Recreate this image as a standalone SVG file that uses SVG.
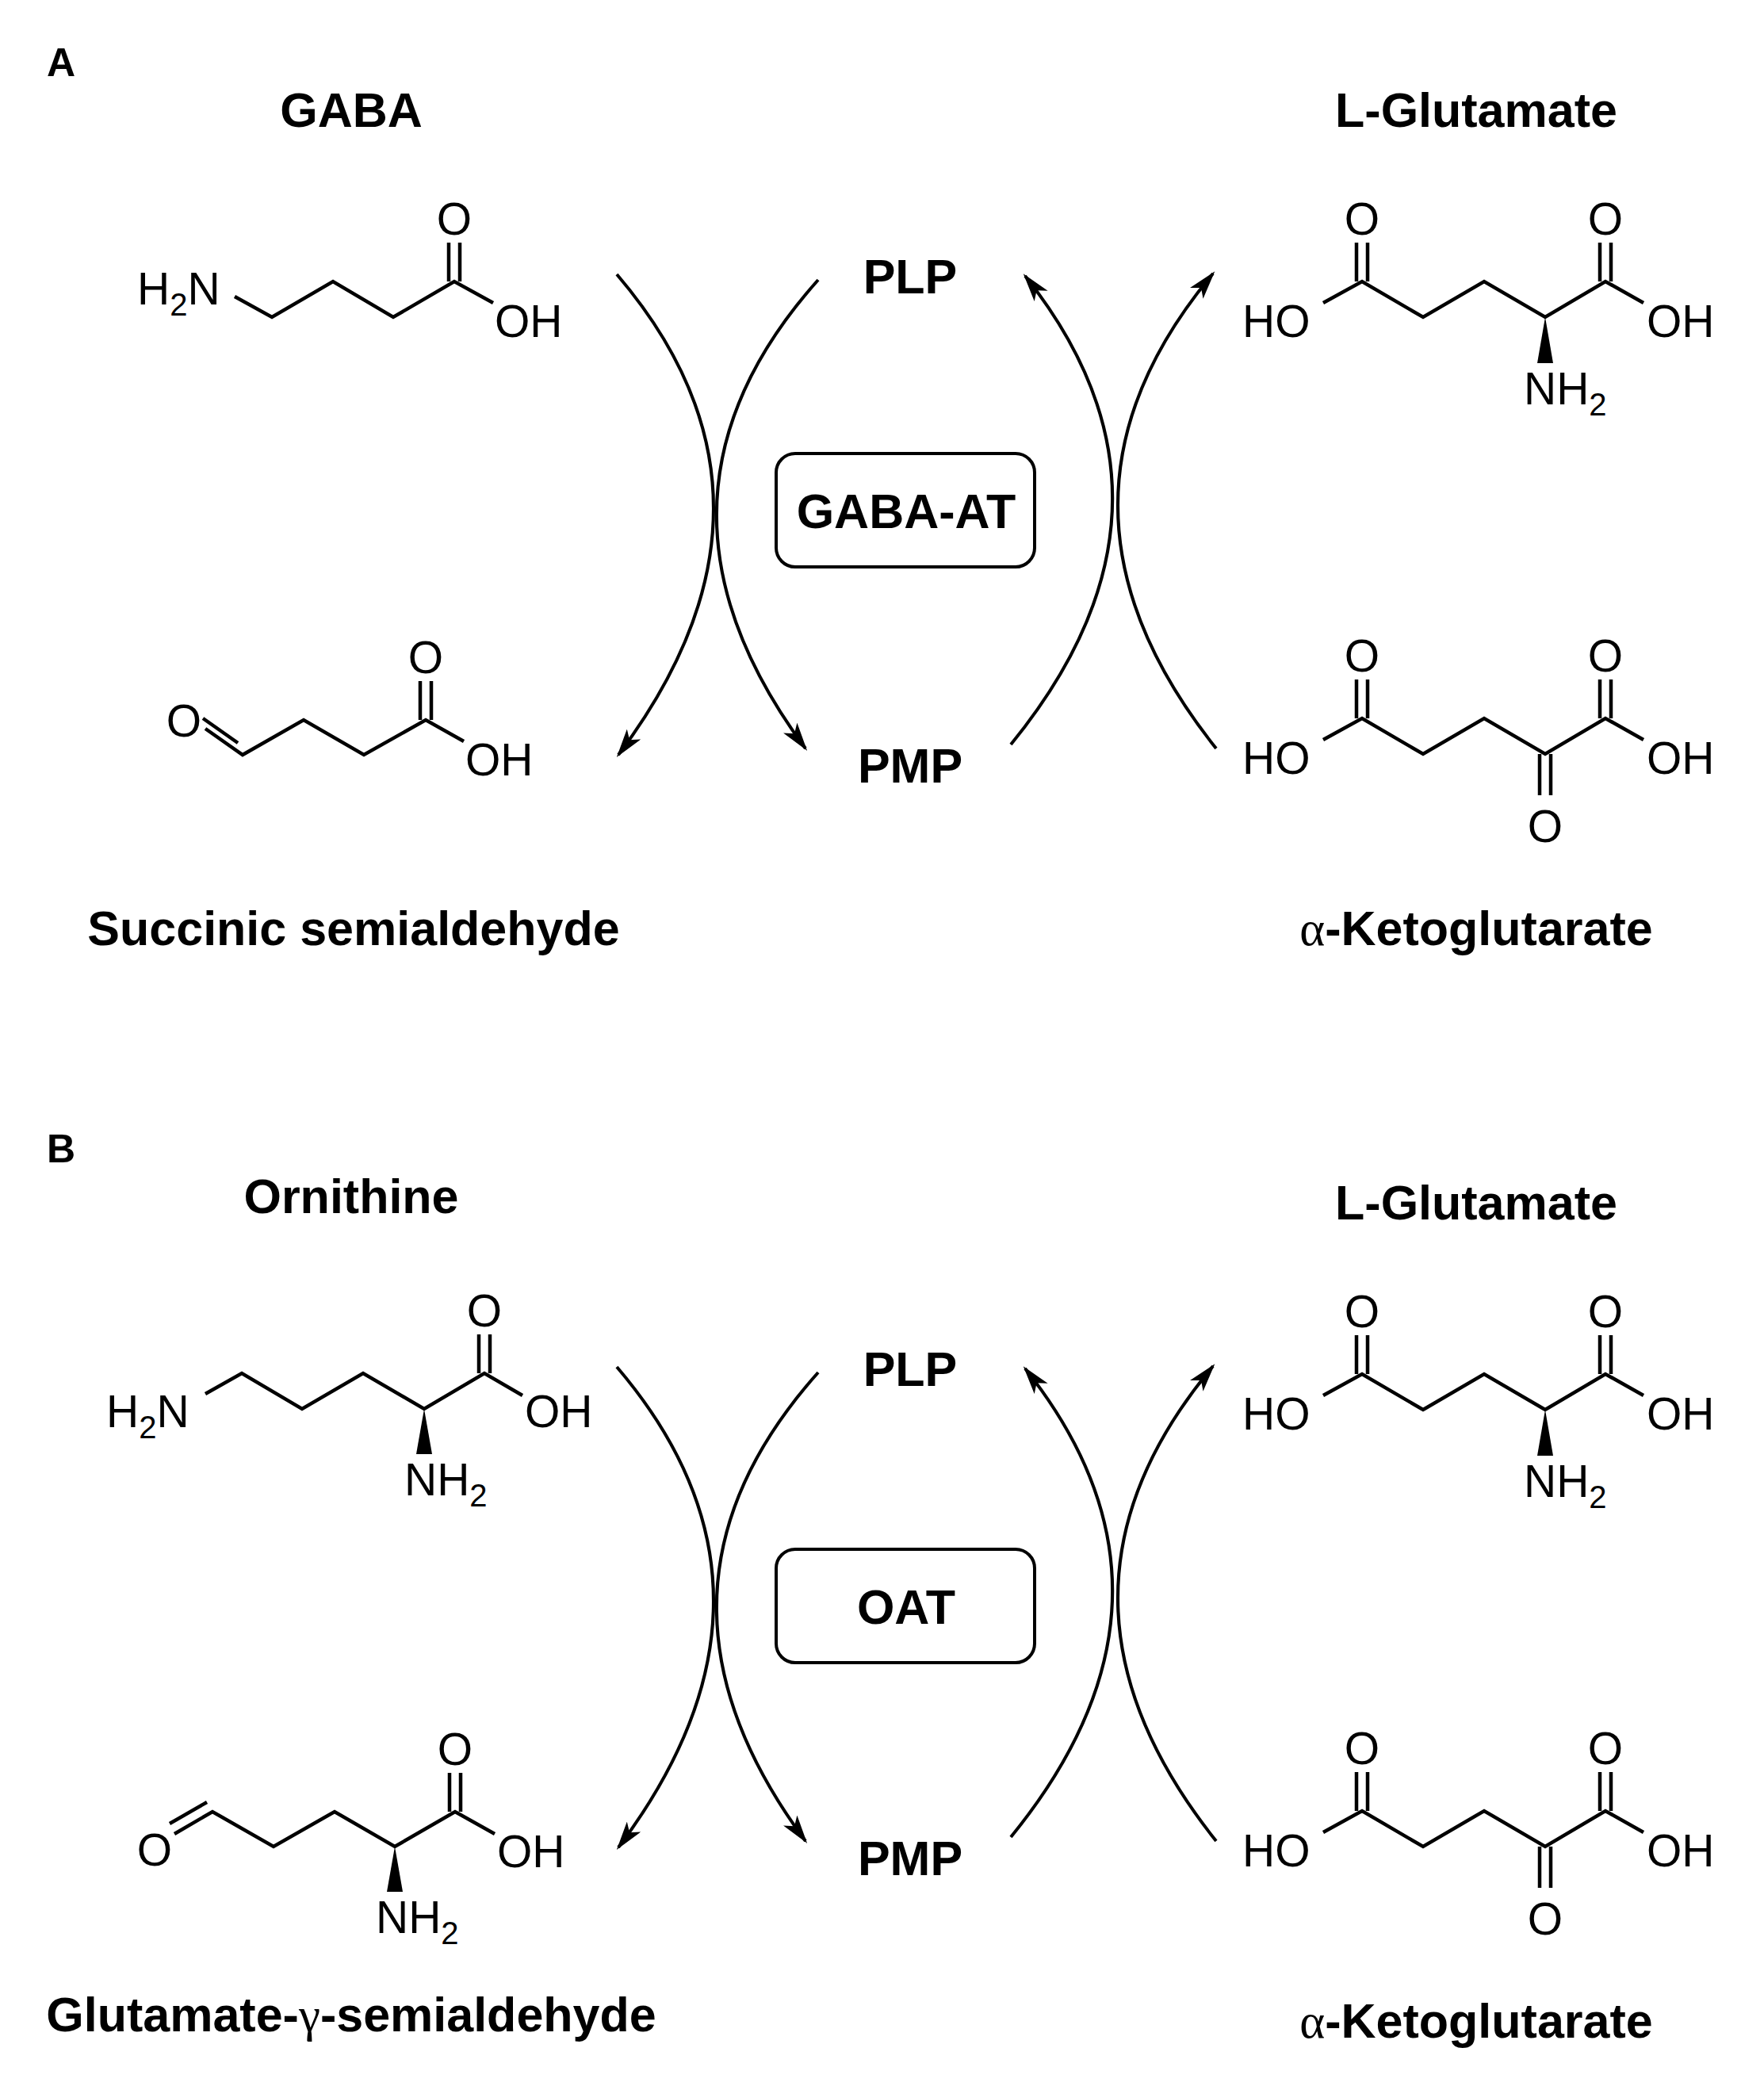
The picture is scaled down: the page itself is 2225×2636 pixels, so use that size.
<svg xmlns="http://www.w3.org/2000/svg" width="2225" height="2636" viewBox="0 0 2225 2636">
<style>
.t{font-family:"Liberation Sans",Arial,sans-serif;font-weight:bold;font-size:61px;fill:#000}
.c{font-family:"Liberation Sans",Arial,sans-serif;font-size:57px;fill:#000}
.s{font-size:40px}
.g{font-family:"Liberation Serif","Times New Roman",serif;font-weight:normal}
.b{fill:none;stroke:#000;stroke-width:4.5;stroke-linejoin:miter}
.a{fill:none;stroke:#000;stroke-width:4;marker-end:url(#ah)}
.box{fill:none;stroke:#000;stroke-width:4}
</style>
<defs>
<marker id="ah" viewBox="0 0 20 12" refX="18" refY="6" markerWidth="9" markerHeight="5.4" orient="auto" markerUnits="strokeWidth">
<path d="M0,0 L20,6 L0,12 L5,6 z" fill="#000"/>
</marker>
<g id="glu">
<text class="c" x="1567" y="425">HO</text>
<path class="b" d="M1669,382 L1718,355 L1795,400 L1872,355 L1949,400 L2025,355 L2073,382"/>
<path class="b" d="M1711,355 V306 M1725,355 V306 M2018,355 V306 M2032,355 V306"/>
<text class="c" x="1718" y="296" text-anchor="middle">O</text>
<text class="c" x="2025" y="296" text-anchor="middle">O</text>
<text class="c" x="2077" y="425">OH</text>
<path d="M1949,400 L1959,458 L1939,458 z" fill="#000"/>
<text class="c" x="1922" y="510">NH<tspan class="s" dy="14">2</tspan></text>
</g>
<g id="akg">
<text class="c" x="1567" y="976">HO</text>
<path class="b" d="M1669,933 L1718,906 L1795,951 L1872,906 L1949,951 L2025,906 L2073,933"/>
<path class="b" d="M1711,906 V857 M1725,906 V857 M2018,906 V857 M2032,906 V857 M1942,951 V1003 M1956,951 V1003"/>
<text class="c" x="1718" y="847" text-anchor="middle">O</text>
<text class="c" x="2025" y="847" text-anchor="middle">O</text>
<text class="c" x="2077" y="976">OH</text>
<text class="c" x="1949" y="1062" text-anchor="middle">O</text>
</g>
<g id="arcs">
<path class="a" d="M778,346 Q1021,631 780,952"/>
<path class="a" d="M1032,353 Q784,631 1016,944"/>
<path class="a" d="M1275,939 Q1522,636 1293,348"/>
<path class="a" d="M1534,944 Q1288,635 1530,345"/>
</g>
<g id="center">
<text class="t" x="1148" y="370" text-anchor="middle">PLP</text>
<text class="t" x="1148" y="987" text-anchor="middle">PMP</text>
</g>
<g id="right">
<text class="t" x="1862" y="160" text-anchor="middle">L-Glutamate</text>
<use href="#glu"/>
<use href="#akg"/>
<text class="t" x="1862" y="1192" text-anchor="middle"><tspan class="g">α</tspan>-Ketoglutarate</text>
</g>
</defs>

<g id="panelA">
<text class="t" x="77" y="96" text-anchor="middle" style="font-size:50px">A</text>
<g id="gaba">
<text class="t" x="443" y="160" text-anchor="middle">GABA</text>
<text class="c" x="173" y="384">H<tspan class="s" dy="14">2</tspan><tspan dy="-14">N</tspan></text>
<path class="b" d="M296,374 L343,400 L420,355 L496,400 L573,355 L622,382"/>
<path class="b" d="M566,355 V306 M580,355 V306"/>
<text class="c" x="573" y="296" text-anchor="middle">O</text>
<text class="c" x="624" y="425">OH</text>
</g>
<g id="ssa">
<text class="c" x="232" y="929" text-anchor="middle">O</text>
<path class="b" d="M259,919 L306,952 L383,908 L459,952 L537,908 L585,935"/>
<path class="b" d="M256,906 L300,937"/>
<path class="b" d="M530,908 V859 M544,908 V859"/>
<text class="c" x="537" y="849" text-anchor="middle">O</text>
<text class="c" x="587" y="978">OH</text>
<text class="t" x="446" y="1192" text-anchor="middle">Succinic semialdehyde</text>
</g>
<g id="connA"><use href="#arcs"/></g>
<g id="enzA">
<rect class="box" x="979" y="572" width="326" height="143" rx="24"/>
<text class="t" x="1143" y="666" text-anchor="middle">GABA-AT</text>
</g>
<g id="cofA"><use href="#center"/></g>
<g id="rightA"><use href="#right"/></g>
</g>

<g id="panelB">
<text class="t" x="77" y="1466" text-anchor="middle" style="font-size:50px">B</text>
<g id="orn">
<text class="t" x="443" y="1530" text-anchor="middle">Ornithine</text>
<text class="c" x="134" y="1800">H<tspan class="s" dy="14">2</tspan><tspan dy="-14">N</tspan></text>
<path class="b" d="M259,1758 L305,1732 L381,1777 L458,1732 L535,1777 L611,1732 L659,1760"/>
<path class="b" d="M604,1732 V1683 M618,1732 V1683"/>
<text class="c" x="611" y="1673" text-anchor="middle">O</text>
<text class="c" x="662" y="1800">OH</text>
<path d="M535,1777 L545,1834 L525,1834 z" fill="#000"/>
<text class="c" x="510" y="1886">NH<tspan class="s" dy="14">2</tspan></text>
</g>
<g id="gsa">
<text class="c" x="195" y="2353" text-anchor="middle">O</text>
<path class="b" d="M220,2313 L268,2285 L345,2329 L422,2285 L498,2329 L574,2285 L624,2313"/>
<path class="b" d="M214,2300 L261,2273"/>
<path class="b" d="M567,2285 V2236 M581,2285 V2236"/>
<text class="c" x="574" y="2226" text-anchor="middle">O</text>
<text class="c" x="627" y="2355">OH</text>
<path d="M498,2329 L508,2386 L488,2386 z" fill="#000"/>
<text class="c" x="474" y="2438">NH<tspan class="s" dy="14">2</tspan></text>
<text class="t" x="443" y="2562" text-anchor="middle">Glutamate-<tspan class="g">γ</tspan>-semialdehyde</text>
</g>
<g id="connB" transform="translate(0,1378)"><use href="#arcs"/></g>
<g id="enzB">
<rect class="box" x="979" y="1954" width="326" height="143" rx="24"/>
<text class="t" x="1143" y="2048" text-anchor="middle">OAT</text>
</g>
<g id="cofB" transform="translate(0,1378)"><use href="#center"/></g>
<g id="rightB" transform="translate(0,1378)"><use href="#right"/></g>
</g>
</svg>
